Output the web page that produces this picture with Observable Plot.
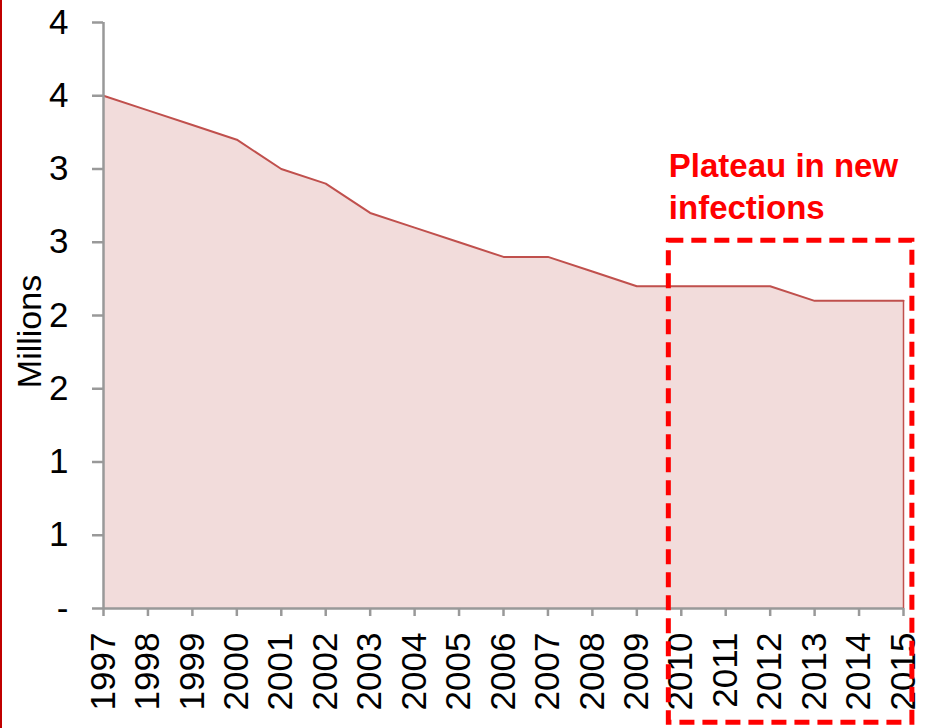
<!DOCTYPE html>
<html>
<head>
<meta charset="utf-8">
<script src="https://cdn.jsdelivr.net/npm/d3@7"></script>
<script src="https://cdn.jsdelivr.net/npm/@observablehq/plot@0.6"></script>
<style>
  html, body { margin: 0; padding: 0; background: #fff; }
  #wrap { position: relative; width: 934px; height: 728px; overflow: hidden; }
  #edge { position: absolute; left: 0; top: 0; width: 2px; height: 728px; background: #c00000; }
  svg { display: block; }
</style>
</head>
<body>
<div id="wrap"><div id="chart"></div><div id="edge"></div></div>
<script>
const years = [1997,1998,1999,2000,2001,2002,2003,2004,2005,2006,2007,2008,2009,2010,2011,2012,2013,2014,2015];
const values = [3.5,3.4,3.3,3.2,3.0,2.9,2.7,2.6,2.5,2.4,2.4,2.3,2.2,2.2,2.2,2.2,2.1,2.1,2.1];
const yTicks = [0,0.5,1,1.5,2,2.5,3,3.5,4];
const yTickLabels = ["-","1","1","2","2","3","3","4","4"];
const yLabel = "Millions";
const noteText = "Plateau in new\ninfections";
const noteBox = [{x1: 2009.72, x2: 2015.2, y1: 2.51, y2: -0.78}];
const notePos = [{x: 2009.72, y: 3.15}];

const data = years.map((year, i) => ({year, value: values[i]}));
const font = "'Liberation Sans', Arial, sans-serif";

const chart = Plot.plot({
  width: 934,
  height: 728,
  marginLeft: 103,
  marginRight: 31,
  marginTop: 22,
  marginBottom: 120,
  style: {fontFamily: font, fontSize: "35px", color: "#000", background: "transparent", overflow: "visible"},
  x: {type: "linear", domain: [1997, 2015]},
  y: {domain: [0, 4]},
  marks: [
    Plot.areaY(data, {x: "year", y: "value", fill: "#f2dcdb"}),
    Plot.ruleX([years[years.length - 1]], {y1: 0, y2: values[values.length - 1], stroke: "#c0504d", strokeWidth: 1.5}),
    Plot.lineY(data, {x: "year", y: "value", stroke: "#c0504d", strokeWidth: 2}),
    Plot.ruleY([0], {stroke: "#999", strokeWidth: 2.5}),
    Plot.ruleX([years[0]], {y1: 0, y2: 4, stroke: "#999", strokeWidth: 2.5}),
    Plot.axisY({ticks: yTicks, tickFormat: (d) => yTickLabels[yTicks.indexOf(d)], tickSize: 11, tickPadding: 24, stroke: "#999", strokeWidth: 2.5, label: null, fontSize: 35}),
    Plot.axisX({ticks: years, tickFormat: d => String(d), tickSize: 8, tickPadding: 16, tickRotate: -90, stroke: "#999", strokeWidth: 2.5, label: null, fontSize: 35}),
    Plot.text([yLabel], {frameAnchor: "left", textAnchor: "middle", rotate: -90, dx: -73, dy: 16, fontSize: 34, fill: "#000"}),
    Plot.rect(noteBox, {x1: "x1", x2: "x2", y1: "y1", y2: "y2", fill: "none", stroke: "#ff0000", strokeWidth: 5, strokeDasharray: "15,8", clip: false}),
    Plot.text(notePos, {x: "x", y: "y", text: () => noteText, textAnchor: "start", lineAnchor: "top", lineHeight: 1.28, fontSize: 33, fontWeight: "bold", fill: "#ff0000"})
  ]
});
document.getElementById("chart").appendChild(chart);
</script>
</body>
</html>
